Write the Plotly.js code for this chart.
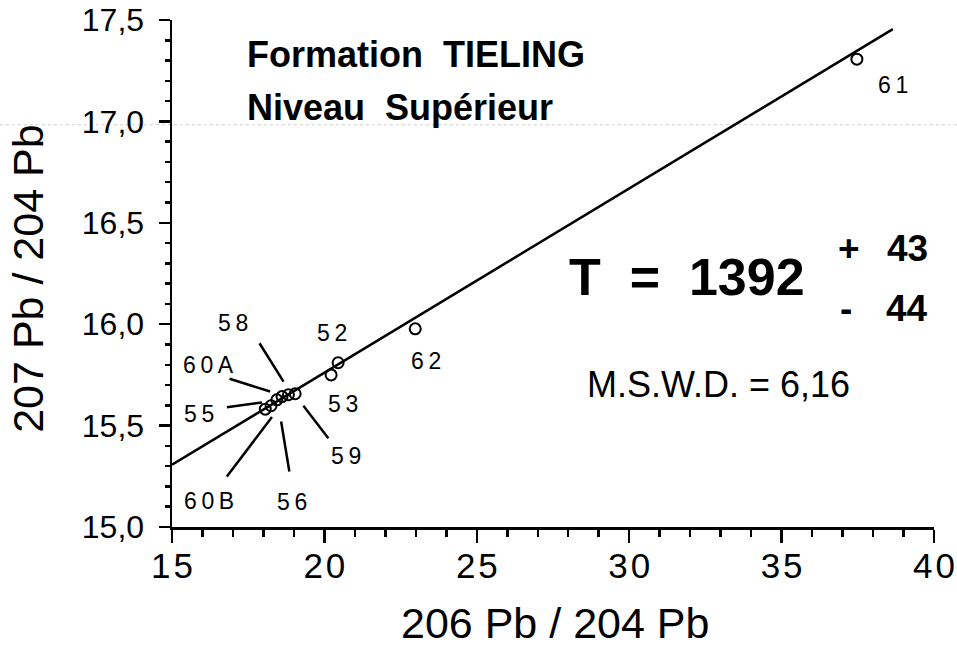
<!DOCTYPE html>
<html>
<head>
<meta charset="utf-8">
<script src="https://cdn.plot.ly/plotly-3.0.1.min.js"></script>
<style>html,body{margin:0;padding:0;background:#fff;}#chart{width:957px;height:650px;}</style>
</head>
<body>
<div id="chart"></div>
<script>
// Samples (206Pb/204Pb, 207Pb/204Pb)
const sampleNames = ['61', '62', '52', '53', '55', '60B', '60A', '58', '56', '59'];
const pb206 = [37.47, 22.98, 20.45, 20.22, 18.06, 18.25, 18.44, 18.61, 18.82, 19.04];
const pb207 = [17.307, 15.977, 15.81, 15.75, 15.581, 15.598, 15.627, 15.643, 15.652, 15.657];

// Isochron (regression line)
const isoX = [15, 38.65];
const isoY = [15.307, 17.455];

// Sample labels (text positions)
const labelText = ['61', '62', '52', '53', '55', '60B', '60A', '58', '56', '59'];
const labelX = [38.65, 23.34, 20.26, 20.60, 15.90, 16.22, 16.19, 16.99, 18.94, 20.70];
const labelY = [17.18, 15.82, 15.955, 15.607, 15.556, 15.127, 15.80, 16.004, 15.122, 15.351];

// Leader lines for crowded labels
const leaderFor = ['55', '60B', '60A', '58', '56', '59'];
const leaderX0 = [16.80, 16.80, 16.89, 17.87, 18.85, 20.13];
const leaderY0 = [15.591, 15.249, 15.731, 15.906, 15.274, 15.438];
const leaderX1 = [17.95, 18.28, 18.22, 18.66, 18.58, 19.31];
const leaderY1 = [15.614, 15.542, 15.668, 15.717, 15.52, 15.598];

// Axis ticks
const xTickVals = [15, 20, 25, 30, 35, 40];
const xTickText = ['1\u200a5', '2\u200a0', '2\u200a5', '3\u200a0', '3\u200a5', '4\u200a0'];
const yTickVals = [15.0, 15.5, 16.0, 16.5, 17.0, 17.5];
const yTickText = ['15,0', '15,5', '16,0', '16,5', '17,0', '17,5'];

// Age result text
const ageText = 'T\u00a0\u00a0=\u00a0\u00a01392';
const errPlus = '43';
const errMinus = '44';
const mswdText = 'M.S.W.D. = 6,16';

const FONT = 'Liberation Sans, Arial, Helvetica, sans-serif';

const lx = [], ly = [];
for (let i = 0; i < leaderX0.length; i++) {
  lx.push(leaderX0[i], leaderX1[i], null);
  ly.push(leaderY0[i], leaderY1[i], null);
}

const traces = [
  {x: isoX, y: isoY, mode: 'lines', line: {color: '#000', width: 2.5}, hoverinfo: 'skip', showlegend: false},
  {x: lx, y: ly, mode: 'lines', line: {color: '#000', width: 2.5}, hoverinfo: 'skip', showlegend: false},
  {x: pb206, y: pb207, text: sampleNames, mode: 'markers',
   marker: {symbol: 'circle-open', size: 11, color: '#000', line: {width: 2, color: '#000'}},
   showlegend: false}
];

const annotations = [];
for (let i = 0; i < labelText.length; i++) {
  annotations.push({x: labelX[i], y: labelY[i], xref: 'x', yref: 'y',
    text: labelText[i].split('').join('\u2009'), showarrow: false,
    font: {family: FONT, size: 23, color: '#000'}, xanchor: 'center', yanchor: 'middle'});
}
const bold = (s) => ({family: FONT, size: s, color: '#000', weight: 'bold'});
annotations.push(
  {x: 17.38, y: 17.33, xref: 'x', yref: 'y', text: 'Formation\u00a0\u00a0TIELING', showarrow: false,
   font: bold(36), xanchor: 'left', yanchor: 'middle'},
  {x: 17.38, y: 17.07, xref: 'x', yref: 'y', text: 'Niveau\u00a0\u00a0Supérieur', showarrow: false,
   font: bold(36), xanchor: 'left', yanchor: 'middle'},
  {x: 27.97, y: 16.235, xref: 'x', yref: 'y', text: ageText, showarrow: false,
   font: bold(52), xanchor: 'left', yanchor: 'middle'},
  {x: 36.80, y: 16.375, xref: 'x', yref: 'y', text: '+', showarrow: false,
   font: bold(37), xanchor: 'left', yanchor: 'middle'},
  {x: 38.40, y: 16.375, xref: 'x', yref: 'y', text: errPlus, showarrow: false,
   font: bold(37), xanchor: 'left', yanchor: 'middle'},
  {x: 36.85, y: 16.075, xref: 'x', yref: 'y', text: '-', showarrow: false,
   font: bold(37), xanchor: 'left', yanchor: 'middle'},
  {x: 38.37, y: 16.075, xref: 'x', yref: 'y', text: errMinus, showarrow: false,
   font: bold(37), xanchor: 'left', yanchor: 'middle'},
  {x: 28.55, y: 15.705, xref: 'x', yref: 'y', text: mswdText, showarrow: false,
   font: {family: FONT, size: 36, color: '#000'}, xanchor: 'left', yanchor: 'middle'},
  {x: 0.502, y: -0.19, xref: 'paper', yref: 'paper', text: '206 Pb / 204 Pb', showarrow: false,
   font: {family: FONT, size: 43, color: '#000'}, xanchor: 'center', yanchor: 'middle'},
  {x: -0.19, y: 0.49, xref: 'paper', yref: 'paper', text: '207 Pb / 204 Pb', showarrow: false, textangle: -90,
   font: {family: FONT, size: 43, color: '#000'}, xanchor: 'center', yanchor: 'middle'}
);

const layout = {
  width: 957, height: 650,
  margin: {l: 172, r: 23, t: 20, b: 123, pad: 0},
  paper_bgcolor: '#fff', plot_bgcolor: '#fff',
  font: {family: FONT, color: '#000'},
  showlegend: false,
  xaxis: {
    range: [15, 40], showgrid: false, zeroline: false,
    showline: true, linecolor: '#000', linewidth: 2.5,
    ticks: 'outside', ticklen: 13, tickwidth: 2.5, tickcolor: '#000',
    tickmode: 'array', tickvals: xTickVals, ticktext: xTickText,
    tickfont: {family: FONT, size: 35, color: '#000'}, ticklabelstandoff: -7,
    minor: {dtick: 1, ticks: 'outside', ticklen: 7, tickwidth: 2.5, tickcolor: '#000', showgrid: false}
  },
  yaxis: {
    range: [15, 17.5], showgrid: false, zeroline: false,
    showline: true, linecolor: '#000', linewidth: 2.5,
    ticks: 'outside', ticklen: 11, tickwidth: 2.5, tickcolor: '#000',
    tickmode: 'array', tickvals: yTickVals, ticktext: yTickText,
    tickfont: {family: FONT, size: 32, color: '#000'}, ticklabelstandoff: 8,
    minor: {dtick: 0.1, ticks: 'outside', ticklen: 5, tickwidth: 2.5, tickcolor: '#000', showgrid: false}
  },
  shapes: [
    {type: 'line', xref: 'paper', yref: 'paper', x0: -0.226, x1: 1.03, y0: 0.7935, y1: 0.7935,
     line: {color: '#cfcfcf', width: 1, dash: 'dot'}, layer: 'below'}
  ],
  annotations: annotations
};

Plotly.newPlot('chart', traces, layout, {displayModeBar: false, staticPlot: true});
</script>
</body>
</html>
